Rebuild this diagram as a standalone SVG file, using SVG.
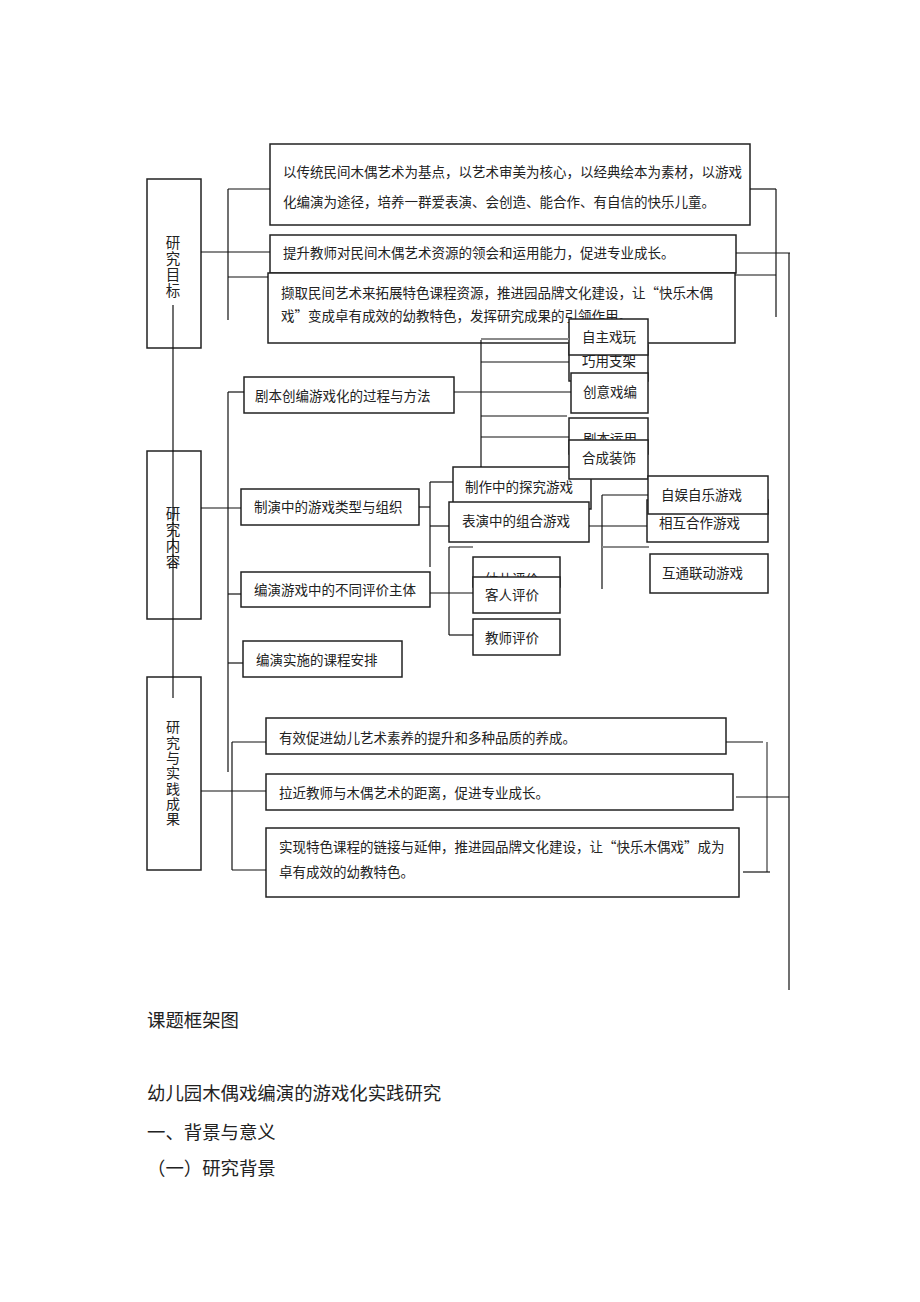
<svg xmlns="http://www.w3.org/2000/svg" width="920" height="1302" viewBox="0 0 920 1302">
<style>
.box{fill:#fff;stroke:#222;stroke-width:1.5}
.obox{fill:none;stroke:#222;stroke-width:1.5}
.ln{stroke:#111;stroke-width:1.2;fill:none}
.gl{stroke:#8a8a8a;stroke-width:2;fill:none}
.t{font-family:"Noto Sans CJK SC","Noto Sans",sans-serif;font-size:13.5px;fill:#222}
.v{font-family:"Noto Sans CJK SC",sans-serif;font-size:14.5px;fill:#222;writing-mode:vertical-rl;letter-spacing:1.5px}
.vs{font-size:14px;letter-spacing:1.3px}
.h{font-family:"Noto Sans CJK SC",sans-serif;font-size:18.4px;fill:#222}
</style>
<rect width="920" height="1302" fill="#fff"/>

<g id="nodes">
  <g id="goal">
    <rect class="obox" x="147" y="179" width="54" height="169"/>
    <text class="v" x="173" y="235">研究目标</text>
  </g>
  <g id="content">
    <rect class="obox" x="147" y="451" width="54" height="168"/>
    <text class="v" x="173" y="506">研究内容</text>
  </g>
  <g id="result">
    <rect class="obox" x="147" y="677" width="54" height="193"/>
    <text class="v vs" x="173" y="720">研究与实践成果</text>
  </g>

  <g id="goalA">
    <rect class="box" x="270" y="144" width="480" height="81"/>
    <text class="t" x="283" y="177">以传统民间木偶艺术为基点，以艺术审美为核心，以经典绘本为素材，以游戏</text>
    <text class="t" x="283" y="207">化编演为途径，培养一群爱表演、会创造、能合作、有自信的快乐儿童。</text>
  </g>
  <g id="goalB">
    <rect class="box" x="270" y="235" width="466" height="38"/>
    <text class="t" x="283" y="258">提升教师对民间木偶艺术资源的领会和运用能力，促进专业成长。</text>
  </g>
  <g id="goalC">
    <rect class="box" x="268" y="273" width="467" height="70"/>
    <text class="t" x="281" y="298">撷取民间艺术来拓展特色课程资源，推进园品牌文化建设，让“快乐木偶</text>
    <text class="t" x="281" y="321">戏”变成卓有成效的幼教特色，发挥研究成果的引领作用。</text>
  </g>

  <g id="n-qiaoyong">
    <rect class="box" x="569" y="345" width="79" height="36"/>
    <text class="t" x="582" y="366">巧用支架</text>
  </g>
  <g id="n-zizhu">
    <rect class="box" x="569" y="319" width="79" height="36"/>
    <text class="t" x="582" y="342">自主戏玩</text>
  </g>
  <g id="n-chuangyi">
    <rect class="box" x="571" y="373" width="77" height="40"/>
    <text class="t" x="583" y="397">创意戏编</text>
  </g>
  <g id="n-juben">
    <rect class="box" x="569" y="418" width="79" height="36"/>
    <text class="t" x="583" y="444">剧本运用</text>
  </g>
  <g id="n-zhizuo">
    <rect class="box" x="453" y="467" width="138" height="42"/>
    <text class="t" x="465" y="492">制作中的探究游戏</text>
  </g>
  <g id="n-hecheng">
    <rect class="box" x="569" y="440" width="79" height="39"/>
    <text class="t" x="582" y="463">合成装饰</text>
  </g>
  <g id="n-biaoyan">
    <rect class="box" x="449" y="502" width="140" height="40"/>
    <text class="t" x="462" y="526">表演中的组合游戏</text>
  </g>
  <g id="n-youer">
    <rect class="box" x="473" y="557" width="87" height="30"/>
    <text class="t" x="485" y="584">幼儿评价</text>
  </g>
  <g id="n-keren">
    <rect class="box" x="473" y="577" width="87" height="36"/>
    <text class="t" x="485" y="600">客人评价</text>
  </g>
  <g id="n-jiaoshi">
    <rect class="box" x="473" y="619" width="87" height="36"/>
    <text class="t" x="485" y="643">教师评价</text>
  </g>
  <g id="n-huxiang">
    <rect class="box" x="647" y="500" width="121" height="42"/>
    <text class="t" x="659" y="528">相互合作游戏</text>
  </g>
  <g id="n-ziyu">
    <rect class="box" x="648" y="476" width="120" height="38"/>
    <text class="t" x="661" y="500">自娱自乐游戏</text>
  </g>
  <g id="n-hutong">
    <rect class="box" x="650" y="554" width="118" height="39"/>
    <text class="t" x="662" y="578">互通联动游戏</text>
  </g>

  <g id="c1">
    <rect class="box" x="244" y="377" width="210" height="36"/>
    <text class="t" x="255" y="401">剧本创编游戏化的过程与方法</text>
  </g>
  <g id="c2">
    <rect class="box" x="241" y="489" width="178" height="36"/>
    <text class="t" x="254" y="512">制演中的游戏类型与组织</text>
  </g>
  <g id="c3">
    <rect class="box" x="241" y="572" width="189" height="35"/>
    <text class="t" x="254" y="595">编演游戏中的不同评价主体</text>
  </g>
  <g id="c4">
    <rect class="box" x="243" y="641" width="159" height="36"/>
    <text class="t" x="256" y="665">编演实施的课程安排</text>
  </g>

  <g id="r1">
    <rect class="box" x="266" y="718" width="460" height="36"/>
    <text class="t" x="279" y="743">有效促进幼儿艺术素养的提升和多种品质的养成。</text>
  </g>
  <g id="r2">
    <rect class="box" x="266" y="774" width="467" height="36"/>
    <text class="t" x="279" y="798">拉近教师与木偶艺术的距离，促进专业成长。</text>
  </g>
  <g id="r3">
    <rect class="box" x="266" y="828" width="473" height="69"/>
    <text class="t" x="279" y="852">实现特色课程的链接与延伸，推进园品牌文化建设，让“快乐木偶戏”成为</text>
    <text class="t" x="279" y="877">卓有成效的幼教特色。</text>
  </g>
</g>

<g id="connectors">
  <line class="ln" x1="173" y1="305" x2="173" y2="698"/>
  <line class="ln" x1="201" y1="252" x2="270" y2="252"/>
  <line class="ln" x1="228" y1="189" x2="228" y2="320"/>
  <line class="ln" x1="228" y1="189" x2="270" y2="189"/>
  <line class="ln" x1="228" y1="277" x2="268" y2="277"/>
  <line class="ln" x1="750" y1="189" x2="776" y2="189"/>
  <line class="ln" x1="776" y1="189" x2="776" y2="317"/>
  <line class="ln" x1="735" y1="275" x2="776" y2="275"/>
  <line class="ln" x1="736" y1="253" x2="790" y2="253"/>
  <line class="ln" x1="789" y1="253" x2="789" y2="990"/>
  <line class="ln" x1="228" y1="392" x2="228" y2="772"/>
  <line class="ln" x1="228" y1="392" x2="244" y2="392"/>
  <line class="ln" x1="201" y1="508" x2="241" y2="508"/>
  <line class="ln" x1="228" y1="594" x2="241" y2="594"/>
  <line class="ln" x1="228" y1="663" x2="243" y2="663"/>
  <line class="gl" x1="481" y1="339" x2="569" y2="339"/>
  <line class="ln" x1="481" y1="340" x2="481" y2="467"/>
  <line class="ln" x1="481" y1="362" x2="569" y2="362"/>
  <line class="ln" x1="454" y1="392" x2="571" y2="392"/>
  <line class="ln" x1="481" y1="416" x2="567" y2="416"/>
  <line class="ln" x1="481" y1="437" x2="569" y2="437"/>
  <line class="ln" x1="419" y1="507" x2="430" y2="507"/>
  <line class="ln" x1="430" y1="482" x2="430" y2="567"/>
  <line class="ln" x1="430" y1="482" x2="453" y2="482"/>
  <line class="ln" x1="430" y1="526" x2="449" y2="526"/>
  <line class="ln" x1="589" y1="526" x2="647" y2="526"/>
  <line class="ln" x1="602" y1="495" x2="602" y2="589"/>
  <line class="ln" x1="602" y1="495" x2="648" y2="495"/>
  <line class="gl" x1="602" y1="547" x2="649" y2="547"/>
  <line class="gl" x1="449" y1="547" x2="473" y2="547"/>
  <line class="ln" x1="449" y1="547" x2="449" y2="635"/>
  <line class="ln" x1="430" y1="593" x2="473" y2="593"/>
  <line class="ln" x1="449" y1="635" x2="473" y2="635"/>
  <line class="ln" x1="201" y1="791" x2="266" y2="791"/>
  <line class="ln" x1="232" y1="742" x2="232" y2="870"/>
  <line class="ln" x1="232" y1="742" x2="266" y2="742"/>
  <line class="ln" x1="232" y1="870" x2="266" y2="870"/>
  <line class="ln" x1="726" y1="742" x2="763" y2="742"/>
  <line class="gl" x1="767" y1="742" x2="767" y2="872"/>
  <line class="ln" x1="736" y1="797" x2="789" y2="797"/>
  <line class="ln" x1="743" y1="872" x2="770" y2="872"/>
</g>

<g id="captions">
  <text class="h" x="147" y="1027">课题框架图</text>
  <text class="h" x="147" y="1100">幼儿园木偶戏编演的游戏化实践研究</text>
  <text class="h" x="147" y="1139">一、背景与意义</text>
  <text class="h" x="147" y="1175">（一）研究背景</text>
</g>
</svg>
